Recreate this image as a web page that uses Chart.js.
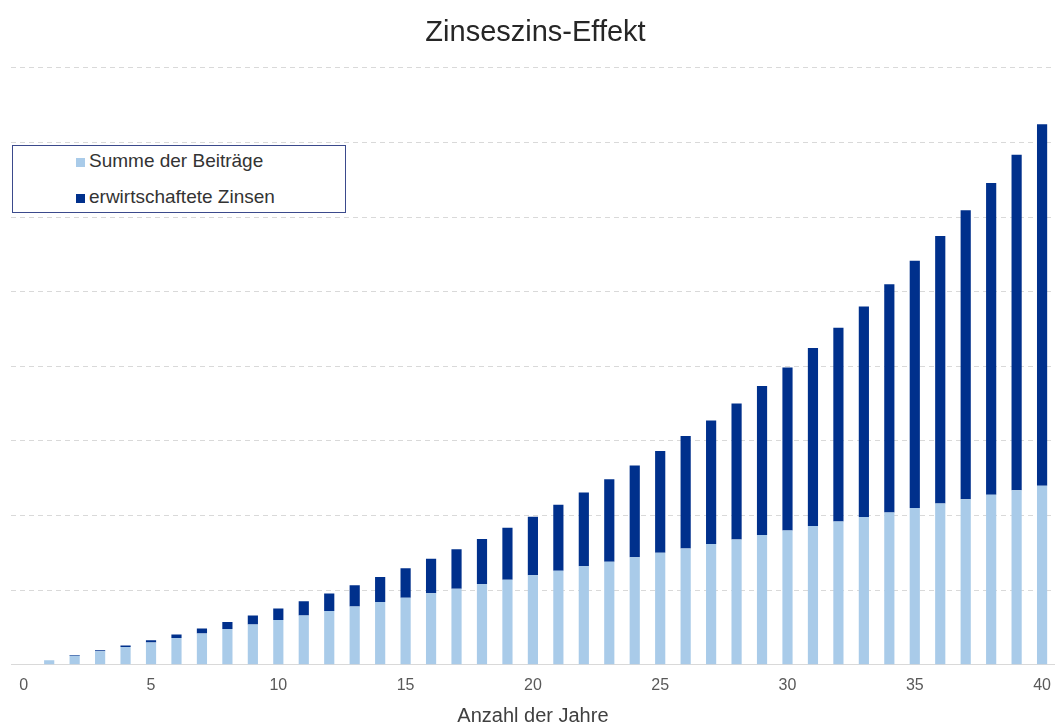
<!DOCTYPE html>
<html>
<head>
<meta charset="utf-8">
<script src="https://cdn.jsdelivr.net/npm/chart.js@4.4.1/dist/chart.umd.min.js"></script>
<style>
  body { margin: 0; background: #fff; }
  #wrap { position: relative; width: 1062px; height: 722px; overflow: hidden; }
  #legend {
    position: absolute; left: 12px; top: 145px; width: 332px; height: 66px;
    border: 1px solid #3b4a8c; background: #fff;
    font-family: "Liberation Sans", Arial, sans-serif; font-size: 19px; color: #333;
    box-sizing: content-box;
  }
  #legend .item { position: absolute; left: 63px; white-space: nowrap; }
  #legend .box { display: inline-block; width: 9px; height: 9px; margin-right: 4px; }
</style>
</head>
<body>
<div id="wrap">
  <canvas id="chart" width="1062" height="722"></canvas>
  <div id="legend"></div>
</div>
<script>
// Jahre 0..40
var jahre = [];
for (var i = 0; i <= 40; i++) jahre.push(i);

var beitraege = [null,
  1200, 2400, 3600, 4800, 6000, 7200, 8400, 9600, 10800, 12000,
  13200, 14400, 15600, 16800, 18000, 19200, 20400, 21600, 22800, 24000,
  25200, 26400, 27600, 28800, 30000, 31200, 32400, 33600, 34800, 36000,
  37200, 38400, 39600, 40800, 42000, 43200, 44400, 45600, 46800, 48000];

var zinsen = [null,
  0, 200, 300, 400, 600, 950, 1350, 1900, 2400, 3100,
  3800, 4700, 5700, 6700, 7900, 9200, 10600, 12100, 13900, 15700,
  17700, 19800, 22100, 24600, 27300, 30100, 33100, 36400, 39900, 43700,
  47700, 51900, 56400, 61200, 66300, 71700, 77400, 83500, 89900, 96900];

var hell = '#a9cbe9';
var dunkel = '#00308c';

const ctx = document.getElementById('chart').getContext('2d');
const myChart = new Chart(ctx, {
  type: 'bar',
  data: {
    labels: jahre,
    datasets: [{
      label: 'Summe der Beiträge',
      data: beitraege,
      backgroundColor: hell
    }, {
      label: 'erwirtschaftete Zinsen',
      data: zinsen,
      backgroundColor: dunkel
    }]
  },
  options: {
    responsive: false,
    animation: false,
    layout: { padding: { left: 11, right: 2, top: 12, bottom: -4 } },
    datasets: {
      bar: { barPercentage: 0.4, categoryPercentage: 1 }
    },
    plugins: {
      legend: { display: false },
      tooltip: { enabled: false },
      title: {
        display: true,
        text: 'Zinseszins-Effekt',
        color: '#262626',
        font: { family: 'Liberation Sans', size: 29, weight: 'normal' },
        padding: { top: 4, bottom: 17 }
      }
    },
    scales: {
      x: {
        stacked: true,
        grid: { display: false, drawTicks: false },
        border: { display: true, color: '#d9d9d9' },
        ticks: {
          color: '#595959',
          font: { family: 'Liberation Sans', size: 16 },
          padding: 11,
          autoSkip: false,
          maxRotation: 0,
          callback: function(v, i) { return i % 5 === 0 ? jahre[i] : ''; }
        },
        title: {
          display: true,
          text: 'Anzahl der Jahre',
          color: '#404040',
          font: { family: 'Liberation Sans', size: 20, lineHeight: 1 },
          padding: { top: 0, bottom: 0 }
        }
      },
      y: {
        stacked: true,
        min: 0,
        max: 160000,
        ticks: { display: false, stepSize: 20000 },
        grid: { color: '#d9d9d9', drawTicks: false, lineWidth: 1 },
        border: { display: false, dash: [5, 4] }
      }
    }
  }
});

// Legende als Kasten links oben
var leg = document.getElementById('legend');
myChart.data.datasets.forEach(function(ds, k) {
  var d = document.createElement('div');
  d.className = 'item';
  d.style.top = (k === 0 ? 4 : 40) + 'px';
  d.innerHTML = '<span class="box" style="background:' + ds.backgroundColor + '"></span>' + ds.label;
  leg.appendChild(d);
});
</script>
</body>
</html>
